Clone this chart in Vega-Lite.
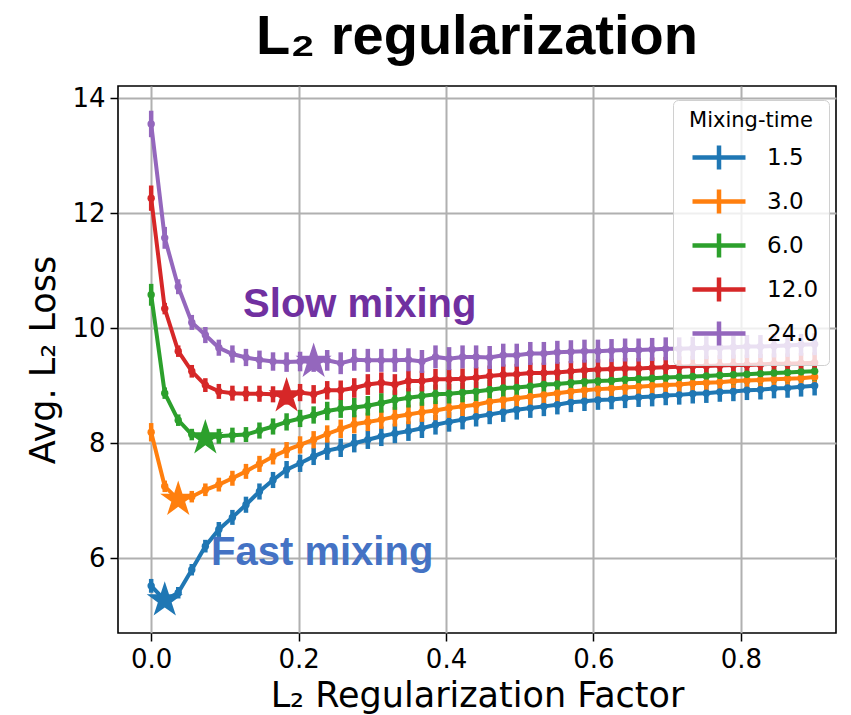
{
  "$schema": "https://vega.github.io/schema/vega-lite/v6.json",
  "autosize": "none",
  "width": 718,
  "height": 547,
  "padding": {"left": 118, "top": 86, "right": 15, "bottom": 82},
  "background": "white",
  "title": {"text": "L₂ regularization", "fontSize": 56, "fontWeight": "bold", "color": "black", "anchor": "middle", "offset": 19},
  "config": {
    "view": {"stroke": "black", "strokeWidth": 1.6},
    "axis": {"grid": true, "gridColor": "#b0b0b0", "gridWidth": 2, "domain": false, "tickColor": "black", "tickSize": 8, "tickWidth": 1.5,
      "labelFont": "DejaVu Sans", "labelFontSize": 26, "labelColor": "black", "titleFont": "DejaVu Sans", "titleFontSize": 35, "titleFontWeight": "normal", "titleColor": "black", "labelPadding": 5},
    "legend": {"labelFont": "DejaVu Sans", "titleFont": "DejaVu Sans"}
  },
  "datasets": {
    "series": [
      {"m":"1.5","x":0,"y":5.52,"lo":5.40,"hi":5.64},{"m":"1.5","x":0.0184,"y":5.27,"lo":5.17,"hi":5.37},{"m":"1.5","x":0.0367,"y":5.40,"lo":5.30,"hi":5.50},{"m":"1.5","x":0.0551,"y":5.80,"lo":5.70,"hi":5.90},{"m":"1.5","x":0.0735,"y":6.21,"lo":6.10,"hi":6.32},{"m":"1.5","x":0.0918,"y":6.50,"lo":6.37,"hi":6.63},{"m":"1.5","x":0.1102,"y":6.71,"lo":6.58,"hi":6.84},{"m":"1.5","x":0.1286,"y":6.93,"lo":6.79,"hi":7.07},{"m":"1.5","x":0.1469,"y":7.16,"lo":7.02,"hi":7.30},{"m":"1.5","x":0.1653,"y":7.36,"lo":7.22,"hi":7.50},
      {"m":"1.5","x":0.1837,"y":7.54,"lo":7.39,"hi":7.69},{"m":"1.5","x":0.2020,"y":7.65,"lo":7.50,"hi":7.80},{"m":"1.5","x":0.2204,"y":7.77,"lo":7.62,"hi":7.92},{"m":"1.5","x":0.2388,"y":7.87,"lo":7.71,"hi":8.03},{"m":"1.5","x":0.2571,"y":7.92,"lo":7.76,"hi":8.08},{"m":"1.5","x":0.2755,"y":8.00,"lo":7.84,"hi":8.16},{"m":"1.5","x":0.2939,"y":8.06,"lo":7.90,"hi":8.22},{"m":"1.5","x":0.3122,"y":8.12,"lo":7.95,"hi":8.29},{"m":"1.5","x":0.3306,"y":8.17,"lo":8.00,"hi":8.34},{"m":"1.5","x":0.3490,"y":8.21,"lo":8.04,"hi":8.38},
      {"m":"1.5","x":0.3673,"y":8.26,"lo":8.09,"hi":8.43},{"m":"1.5","x":0.3857,"y":8.32,"lo":8.15,"hi":8.49},{"m":"1.5","x":0.4041,"y":8.37,"lo":8.20,"hi":8.54},{"m":"1.5","x":0.4224,"y":8.41,"lo":8.24,"hi":8.58},{"m":"1.5","x":0.4408,"y":8.46,"lo":8.29,"hi":8.63},{"m":"1.5","x":0.4592,"y":8.50,"lo":8.33,"hi":8.67},{"m":"1.5","x":0.4776,"y":8.54,"lo":8.37,"hi":8.71},{"m":"1.5","x":0.4959,"y":8.58,"lo":8.41,"hi":8.75},{"m":"1.5","x":0.5143,"y":8.61,"lo":8.44,"hi":8.78},{"m":"1.5","x":0.5327,"y":8.64,"lo":8.47,"hi":8.81},
      {"m":"1.5","x":0.5510,"y":8.67,"lo":8.50,"hi":8.84},{"m":"1.5","x":0.5694,"y":8.71,"lo":8.54,"hi":8.88},{"m":"1.5","x":0.5878,"y":8.73,"lo":8.56,"hi":8.90},{"m":"1.5","x":0.6061,"y":8.75,"lo":8.58,"hi":8.92},{"m":"1.5","x":0.6245,"y":8.76,"lo":8.59,"hi":8.93},{"m":"1.5","x":0.6429,"y":8.78,"lo":8.61,"hi":8.95},{"m":"1.5","x":0.6612,"y":8.80,"lo":8.63,"hi":8.97},{"m":"1.5","x":0.6796,"y":8.81,"lo":8.64,"hi":8.98},{"m":"1.5","x":0.6980,"y":8.83,"lo":8.66,"hi":9.00},{"m":"1.5","x":0.7163,"y":8.84,"lo":8.67,"hi":9.01},
      {"m":"1.5","x":0.7347,"y":8.86,"lo":8.69,"hi":9.03},{"m":"1.5","x":0.7531,"y":8.87,"lo":8.70,"hi":9.04},{"m":"1.5","x":0.7714,"y":8.89,"lo":8.72,"hi":9.06},{"m":"1.5","x":0.7898,"y":8.90,"lo":8.73,"hi":9.07},{"m":"1.5","x":0.8082,"y":8.92,"lo":8.75,"hi":9.09},{"m":"1.5","x":0.8265,"y":8.93,"lo":8.76,"hi":9.10},{"m":"1.5","x":0.8449,"y":8.95,"lo":8.78,"hi":9.12},{"m":"1.5","x":0.8633,"y":8.96,"lo":8.79,"hi":9.13},{"m":"1.5","x":0.8816,"y":8.98,"lo":8.81,"hi":9.15},{"m":"1.5","x":0.9,"y":9.00,"lo":8.83,"hi":9.17},

      {"m":"3.0","x":0,"y":8.19,"lo":8.03,"hi":8.35},{"m":"3.0","x":0.0184,"y":7.25,"lo":7.15,"hi":7.35},{"m":"3.0","x":0.0367,"y":7.02,"lo":6.92,"hi":7.12},{"m":"3.0","x":0.0551,"y":7.07,"lo":6.97,"hi":7.17},{"m":"3.0","x":0.0735,"y":7.19,"lo":7.08,"hi":7.30},{"m":"3.0","x":0.0918,"y":7.28,"lo":7.16,"hi":7.40},{"m":"3.0","x":0.1102,"y":7.39,"lo":7.26,"hi":7.52},{"m":"3.0","x":0.1286,"y":7.51,"lo":7.38,"hi":7.64},{"m":"3.0","x":0.1469,"y":7.64,"lo":7.50,"hi":7.78},{"m":"3.0","x":0.1653,"y":7.77,"lo":7.63,"hi":7.91},
      {"m":"3.0","x":0.1837,"y":7.88,"lo":7.74,"hi":8.02},{"m":"3.0","x":0.2020,"y":7.97,"lo":7.82,"hi":8.12},{"m":"3.0","x":0.2204,"y":8.06,"lo":7.91,"hi":8.21},{"m":"3.0","x":0.2388,"y":8.16,"lo":8.01,"hi":8.31},{"m":"3.0","x":0.2571,"y":8.25,"lo":8.09,"hi":8.41},{"m":"3.0","x":0.2755,"y":8.33,"lo":8.17,"hi":8.49},{"m":"3.0","x":0.2939,"y":8.37,"lo":8.21,"hi":8.53},{"m":"3.0","x":0.3122,"y":8.41,"lo":8.25,"hi":8.57},{"m":"3.0","x":0.3306,"y":8.46,"lo":8.29,"hi":8.63},{"m":"3.0","x":0.3490,"y":8.50,"lo":8.33,"hi":8.67},
      {"m":"3.0","x":0.3673,"y":8.54,"lo":8.37,"hi":8.71},{"m":"3.0","x":0.3857,"y":8.57,"lo":8.40,"hi":8.74},{"m":"3.0","x":0.4041,"y":8.61,"lo":8.44,"hi":8.78},{"m":"3.0","x":0.4224,"y":8.64,"lo":8.47,"hi":8.81},{"m":"3.0","x":0.4408,"y":8.67,"lo":8.50,"hi":8.84},{"m":"3.0","x":0.4592,"y":8.72,"lo":8.55,"hi":8.89},{"m":"3.0","x":0.4776,"y":8.75,"lo":8.58,"hi":8.92},{"m":"3.0","x":0.4959,"y":8.78,"lo":8.61,"hi":8.95},{"m":"3.0","x":0.5143,"y":8.81,"lo":8.64,"hi":8.98},{"m":"3.0","x":0.5327,"y":8.84,"lo":8.67,"hi":9.01},
      {"m":"3.0","x":0.5510,"y":8.87,"lo":8.70,"hi":9.04},{"m":"3.0","x":0.5694,"y":8.90,"lo":8.73,"hi":9.07},{"m":"3.0","x":0.5878,"y":8.92,"lo":8.75,"hi":9.09},{"m":"3.0","x":0.6061,"y":8.94,"lo":8.77,"hi":9.11},{"m":"3.0","x":0.6245,"y":8.95,"lo":8.78,"hi":9.12},{"m":"3.0","x":0.6429,"y":8.97,"lo":8.80,"hi":9.14},{"m":"3.0","x":0.6612,"y":8.98,"lo":8.81,"hi":9.15},{"m":"3.0","x":0.6796,"y":9.00,"lo":8.83,"hi":9.17},{"m":"3.0","x":0.6980,"y":9.01,"lo":8.84,"hi":9.18},{"m":"3.0","x":0.7163,"y":9.02,"lo":8.85,"hi":9.19},
      {"m":"3.0","x":0.7347,"y":9.04,"lo":8.87,"hi":9.21},{"m":"3.0","x":0.7531,"y":9.05,"lo":8.88,"hi":9.22},{"m":"3.0","x":0.7714,"y":9.06,"lo":8.89,"hi":9.23},{"m":"3.0","x":0.7898,"y":9.08,"lo":8.91,"hi":9.25},{"m":"3.0","x":0.8082,"y":9.09,"lo":8.92,"hi":9.26},{"m":"3.0","x":0.8265,"y":9.10,"lo":8.93,"hi":9.27},{"m":"3.0","x":0.8449,"y":9.11,"lo":8.94,"hi":9.28},{"m":"3.0","x":0.8633,"y":9.12,"lo":8.95,"hi":9.29},{"m":"3.0","x":0.8816,"y":9.13,"lo":8.96,"hi":9.30},{"m":"3.0","x":0.9,"y":9.15,"lo":8.98,"hi":9.32},

      {"m":"6.0","x":0,"y":10.58,"lo":10.39,"hi":10.77},{"m":"6.0","x":0.0184,"y":8.87,"lo":8.77,"hi":8.97},{"m":"6.0","x":0.0367,"y":8.40,"lo":8.30,"hi":8.50},{"m":"6.0","x":0.0551,"y":8.15,"lo":8.05,"hi":8.25},{"m":"6.0","x":0.0735,"y":8.09,"lo":7.97,"hi":8.21},{"m":"6.0","x":0.0918,"y":8.12,"lo":7.99,"hi":8.25},{"m":"6.0","x":0.1102,"y":8.14,"lo":8.01,"hi":8.27},{"m":"6.0","x":0.1286,"y":8.15,"lo":8.02,"hi":8.28},{"m":"6.0","x":0.1469,"y":8.22,"lo":8.08,"hi":8.36},{"m":"6.0","x":0.1653,"y":8.29,"lo":8.15,"hi":8.43},
      {"m":"6.0","x":0.1837,"y":8.37,"lo":8.22,"hi":8.52},{"m":"6.0","x":0.2020,"y":8.43,"lo":8.28,"hi":8.58},{"m":"6.0","x":0.2204,"y":8.49,"lo":8.34,"hi":8.64},{"m":"6.0","x":0.2388,"y":8.56,"lo":8.40,"hi":8.72},{"m":"6.0","x":0.2571,"y":8.60,"lo":8.44,"hi":8.76},{"m":"6.0","x":0.2755,"y":8.62,"lo":8.45,"hi":8.79},{"m":"6.0","x":0.2939,"y":8.65,"lo":8.48,"hi":8.82},{"m":"6.0","x":0.3122,"y":8.70,"lo":8.53,"hi":8.87},{"m":"6.0","x":0.3306,"y":8.75,"lo":8.58,"hi":8.92},{"m":"6.0","x":0.3490,"y":8.79,"lo":8.62,"hi":8.96},
      {"m":"6.0","x":0.3673,"y":8.82,"lo":8.65,"hi":8.99},{"m":"6.0","x":0.3857,"y":8.85,"lo":8.68,"hi":9.02},{"m":"6.0","x":0.4041,"y":8.86,"lo":8.69,"hi":9.03},{"m":"6.0","x":0.4224,"y":8.88,"lo":8.71,"hi":9.05},{"m":"6.0","x":0.4408,"y":8.90,"lo":8.73,"hi":9.07},{"m":"6.0","x":0.4592,"y":8.93,"lo":8.76,"hi":9.10},{"m":"6.0","x":0.4776,"y":8.96,"lo":8.79,"hi":9.13},{"m":"6.0","x":0.4959,"y":8.97,"lo":8.80,"hi":9.14},{"m":"6.0","x":0.5143,"y":8.99,"lo":8.82,"hi":9.16},{"m":"6.0","x":0.5327,"y":9.02,"lo":8.85,"hi":9.19},
      {"m":"6.0","x":0.5510,"y":9.03,"lo":8.86,"hi":9.20},{"m":"6.0","x":0.5694,"y":9.05,"lo":8.88,"hi":9.22},{"m":"6.0","x":0.5878,"y":9.07,"lo":8.90,"hi":9.24},{"m":"6.0","x":0.6061,"y":9.08,"lo":8.91,"hi":9.25},{"m":"6.0","x":0.6245,"y":9.09,"lo":8.92,"hi":9.26},{"m":"6.0","x":0.6429,"y":9.11,"lo":8.94,"hi":9.28},{"m":"6.0","x":0.6612,"y":9.12,"lo":8.95,"hi":9.29},{"m":"6.0","x":0.6796,"y":9.13,"lo":8.96,"hi":9.30},{"m":"6.0","x":0.6980,"y":9.14,"lo":8.97,"hi":9.31},{"m":"6.0","x":0.7163,"y":9.15,"lo":8.98,"hi":9.32},
      {"m":"6.0","x":0.7347,"y":9.16,"lo":8.99,"hi":9.33},{"m":"6.0","x":0.7531,"y":9.17,"lo":9.00,"hi":9.34},{"m":"6.0","x":0.7714,"y":9.18,"lo":9.01,"hi":9.35},{"m":"6.0","x":0.7898,"y":9.19,"lo":9.02,"hi":9.36},{"m":"6.0","x":0.8082,"y":9.20,"lo":9.03,"hi":9.37},{"m":"6.0","x":0.8265,"y":9.21,"lo":9.04,"hi":9.38},{"m":"6.0","x":0.8449,"y":9.22,"lo":9.05,"hi":9.39},{"m":"6.0","x":0.8633,"y":9.23,"lo":9.06,"hi":9.40},{"m":"6.0","x":0.8816,"y":9.24,"lo":9.07,"hi":9.41},{"m":"6.0","x":0.9,"y":9.25,"lo":9.08,"hi":9.42},

      {"m":"12.0","x":0,"y":12.26,"lo":12.04,"hi":12.48},{"m":"12.0","x":0.0184,"y":10.34,"lo":10.24,"hi":10.44},{"m":"12.0","x":0.0367,"y":9.60,"lo":9.50,"hi":9.70},{"m":"12.0","x":0.0551,"y":9.25,"lo":9.14,"hi":9.36},{"m":"12.0","x":0.0735,"y":9.01,"lo":8.89,"hi":9.13},{"m":"12.0","x":0.0918,"y":8.90,"lo":8.77,"hi":9.03},{"m":"12.0","x":0.1102,"y":8.87,"lo":8.74,"hi":9.00},{"m":"12.0","x":0.1286,"y":8.86,"lo":8.73,"hi":8.99},{"m":"12.0","x":0.1469,"y":8.86,"lo":8.72,"hi":9.00},{"m":"12.0","x":0.1653,"y":8.85,"lo":8.71,"hi":8.99},
      {"m":"12.0","x":0.1837,"y":8.82,"lo":8.67,"hi":8.97},{"m":"12.0","x":0.2020,"y":8.88,"lo":8.73,"hi":9.03},{"m":"12.0","x":0.2204,"y":8.85,"lo":8.69,"hi":9.01},{"m":"12.0","x":0.2388,"y":8.92,"lo":8.76,"hi":9.08},{"m":"12.0","x":0.2571,"y":8.92,"lo":8.75,"hi":9.09},{"m":"12.0","x":0.2755,"y":8.96,"lo":8.79,"hi":9.13},{"m":"12.0","x":0.2939,"y":9.02,"lo":8.84,"hi":9.20},{"m":"12.0","x":0.3122,"y":9.05,"lo":8.87,"hi":9.23},{"m":"12.0","x":0.3306,"y":9.02,"lo":8.84,"hi":9.20},{"m":"12.0","x":0.3490,"y":9.08,"lo":8.90,"hi":9.26},
      {"m":"12.0","x":0.3673,"y":9.08,"lo":8.90,"hi":9.26},{"m":"12.0","x":0.3857,"y":9.11,"lo":8.93,"hi":9.29},{"m":"12.0","x":0.4041,"y":9.11,"lo":8.93,"hi":9.29},{"m":"12.0","x":0.4224,"y":9.12,"lo":8.94,"hi":9.30},{"m":"12.0","x":0.4408,"y":9.14,"lo":8.96,"hi":9.32},{"m":"12.0","x":0.4592,"y":9.17,"lo":8.99,"hi":9.35},{"m":"12.0","x":0.4776,"y":9.19,"lo":9.01,"hi":9.37},{"m":"12.0","x":0.4959,"y":9.20,"lo":9.02,"hi":9.38},{"m":"12.0","x":0.5143,"y":9.22,"lo":9.04,"hi":9.40},{"m":"12.0","x":0.5327,"y":9.22,"lo":9.04,"hi":9.40},
      {"m":"12.0","x":0.5510,"y":9.23,"lo":9.05,"hi":9.41},{"m":"12.0","x":0.5694,"y":9.25,"lo":9.07,"hi":9.43},{"m":"12.0","x":0.5878,"y":9.27,"lo":9.09,"hi":9.45},{"m":"12.0","x":0.6061,"y":9.28,"lo":9.10,"hi":9.46},{"m":"12.0","x":0.6245,"y":9.29,"lo":9.11,"hi":9.47},{"m":"12.0","x":0.6429,"y":9.30,"lo":9.12,"hi":9.48},{"m":"12.0","x":0.6612,"y":9.30,"lo":9.12,"hi":9.48},{"m":"12.0","x":0.6796,"y":9.31,"lo":9.13,"hi":9.49},{"m":"12.0","x":0.6980,"y":9.32,"lo":9.14,"hi":9.50},{"m":"12.0","x":0.7163,"y":9.33,"lo":9.15,"hi":9.51},
      {"m":"12.0","x":0.7347,"y":9.34,"lo":9.16,"hi":9.52},{"m":"12.0","x":0.7531,"y":9.34,"lo":9.16,"hi":9.52},{"m":"12.0","x":0.7714,"y":9.35,"lo":9.17,"hi":9.53},{"m":"12.0","x":0.7898,"y":9.36,"lo":9.18,"hi":9.54},{"m":"12.0","x":0.8082,"y":9.36,"lo":9.18,"hi":9.54},{"m":"12.0","x":0.8265,"y":9.37,"lo":9.19,"hi":9.55},{"m":"12.0","x":0.8449,"y":9.38,"lo":9.20,"hi":9.56},{"m":"12.0","x":0.8633,"y":9.38,"lo":9.20,"hi":9.56},{"m":"12.0","x":0.8816,"y":9.39,"lo":9.21,"hi":9.57},{"m":"12.0","x":0.9,"y":9.40,"lo":9.22,"hi":9.58},

      {"m":"24.0","x":0,"y":13.55,"lo":13.32,"hi":13.78},{"m":"24.0","x":0.0184,"y":11.57,"lo":11.38,"hi":11.76},{"m":"24.0","x":0.0367,"y":10.72,"lo":10.59,"hi":10.85},{"m":"24.0","x":0.0551,"y":10.10,"lo":9.97,"hi":10.23},{"m":"24.0","x":0.0735,"y":9.88,"lo":9.74,"hi":10.02},{"m":"24.0","x":0.0918,"y":9.66,"lo":9.52,"hi":9.80},{"m":"24.0","x":0.1102,"y":9.55,"lo":9.40,"hi":9.70},{"m":"24.0","x":0.1286,"y":9.49,"lo":9.34,"hi":9.64},{"m":"24.0","x":0.1469,"y":9.45,"lo":9.29,"hi":9.61},{"m":"24.0","x":0.1653,"y":9.42,"lo":9.26,"hi":9.58},
      {"m":"24.0","x":0.1837,"y":9.41,"lo":9.24,"hi":9.58},{"m":"24.0","x":0.2020,"y":9.42,"lo":9.25,"hi":9.59},{"m":"24.0","x":0.2204,"y":9.42,"lo":9.24,"hi":9.60},{"m":"24.0","x":0.2388,"y":9.44,"lo":9.26,"hi":9.62},{"m":"24.0","x":0.2571,"y":9.39,"lo":9.20,"hi":9.58},{"m":"24.0","x":0.2755,"y":9.45,"lo":9.26,"hi":9.64},{"m":"24.0","x":0.2939,"y":9.44,"lo":9.24,"hi":9.64},{"m":"24.0","x":0.3122,"y":9.44,"lo":9.24,"hi":9.64},{"m":"24.0","x":0.3306,"y":9.44,"lo":9.24,"hi":9.64},{"m":"24.0","x":0.3490,"y":9.45,"lo":9.25,"hi":9.65},
      {"m":"24.0","x":0.3673,"y":9.42,"lo":9.22,"hi":9.62},{"m":"24.0","x":0.3857,"y":9.50,"lo":9.30,"hi":9.70},{"m":"24.0","x":0.4041,"y":9.47,"lo":9.27,"hi":9.67},{"m":"24.0","x":0.4224,"y":9.50,"lo":9.30,"hi":9.70},{"m":"24.0","x":0.4408,"y":9.50,"lo":9.30,"hi":9.70},{"m":"24.0","x":0.4592,"y":9.49,"lo":9.29,"hi":9.69},{"m":"24.0","x":0.4776,"y":9.53,"lo":9.33,"hi":9.73},{"m":"24.0","x":0.4959,"y":9.53,"lo":9.33,"hi":9.73},{"m":"24.0","x":0.5143,"y":9.56,"lo":9.36,"hi":9.76},{"m":"24.0","x":0.5327,"y":9.56,"lo":9.36,"hi":9.76},
      {"m":"24.0","x":0.5510,"y":9.58,"lo":9.38,"hi":9.78},{"m":"24.0","x":0.5694,"y":9.59,"lo":9.39,"hi":9.79},{"m":"24.0","x":0.5878,"y":9.60,"lo":9.40,"hi":9.80},{"m":"24.0","x":0.6061,"y":9.60,"lo":9.40,"hi":9.80},{"m":"24.0","x":0.6245,"y":9.61,"lo":9.41,"hi":9.81},{"m":"24.0","x":0.6429,"y":9.62,"lo":9.42,"hi":9.82},{"m":"24.0","x":0.6612,"y":9.62,"lo":9.42,"hi":9.82},{"m":"24.0","x":0.6796,"y":9.63,"lo":9.43,"hi":9.83},{"m":"24.0","x":0.6980,"y":9.64,"lo":9.44,"hi":9.84},{"m":"24.0","x":0.7163,"y":9.64,"lo":9.44,"hi":9.84},
      {"m":"24.0","x":0.7347,"y":9.65,"lo":9.45,"hi":9.85},{"m":"24.0","x":0.7531,"y":9.66,"lo":9.46,"hi":9.86},{"m":"24.0","x":0.7714,"y":9.66,"lo":9.46,"hi":9.86},{"m":"24.0","x":0.7898,"y":9.67,"lo":9.47,"hi":9.87},{"m":"24.0","x":0.8082,"y":9.68,"lo":9.48,"hi":9.88},{"m":"24.0","x":0.8265,"y":9.68,"lo":9.48,"hi":9.88},{"m":"24.0","x":0.8449,"y":9.69,"lo":9.49,"hi":9.89},{"m":"24.0","x":0.8633,"y":9.70,"lo":9.50,"hi":9.90},{"m":"24.0","x":0.8816,"y":9.71,"lo":9.52,"hi":9.90},{"m":"24.0","x":0.9,"y":9.72,"lo":9.53,"hi":9.91}
    ],
    "stars": [
      {"m":"1.5","x":0.0184,"y":5.27},
      {"m":"3.0","x":0.0367,"y":7.02},
      {"m":"6.0","x":0.0735,"y":8.09},
      {"m":"12.0","x":0.1837,"y":8.82},
      {"m":"24.0","x":0.2204,"y":9.42}
    ]
  },
  "layer": [
    {
      "data": {"name": "series"},
      "mark": {"type": "rule", "strokeWidth": 4.5},
      "encoding": {
        "x": {"field": "x", "type": "quantitative", "title": "L₂ Regularization Factor",
          "scale": {"domain": [-0.045, 0.929], "nice": false, "zero": false},
          "axis": {"values": [0, 0.2, 0.4, 0.6, 0.8], "format": ".1f", "titlePadding": 6}},
        "y": {"field": "lo", "type": "quantitative", "title": "Avg. L₂ Loss",
          "scale": {"domain": [4.7, 14.21], "nice": false, "zero": false},
          "axis": {"values": [6, 8, 10, 12, 14], "format": "d", "titlePadding": 10}},
        "y2": {"field": "hi"},
        "color": {"field": "m", "type": "nominal", "sort": ["1.5", "3.0", "6.0", "12.0", "24.0"],
          "scale": {"domain": ["1.5", "3.0", "6.0", "12.0", "24.0"], "range": ["#1f77b4", "#ff7f0e", "#2ca02c", "#d62728", "#9467bd"]},
          "legend": {"title": "Mixing-time", "orient": "none", "legendX": 555, "legendY": 14,
            "titleFontSize": 21, "titleFontWeight": "normal", "titleAnchor": "middle", "titlePadding": 4, "titleColor": "black",
            "labelFontSize": 23, "labelColor": "black", "labelOffset": 39,
            "symbolType": "M-0.65,0H2M0.675,-0.6V0.6", "symbolSize": 1600, "symbolStrokeWidth": 4.5, "rowPadding": -12,
            "padding": 10, "strokeColor": "#d0d0d0", "fillColor": "rgba(255,255,255,0.8)", "cornerRadius": 5}}
      }
    },
    {
      "data": {"name": "series"},
      "mark": {"type": "line", "strokeWidth": 4},
      "encoding": {
        "x": {"field": "x", "type": "quantitative", "title": "L₂ Regularization Factor"},
        "y": {"field": "y", "type": "quantitative", "title": "Avg. L₂ Loss"},
        "color": {"field": "m", "type": "nominal", "sort": ["1.5", "3.0", "6.0", "12.0", "24.0"]}
      }
    },
    {
      "data": {"name": "series"},
      "mark": {"type": "point", "filled": true, "size": 55, "opacity": 1},
      "encoding": {
        "x": {"field": "x", "type": "quantitative", "title": "L₂ Regularization Factor"},
        "y": {"field": "y", "type": "quantitative", "title": "Avg. L₂ Loss"},
        "color": {"field": "m", "type": "nominal", "sort": ["1.5", "3.0", "6.0", "12.0", "24.0"]}
      }
    },
    {
      "data": {"name": "stars"},
      "mark": {"type": "point", "shape": "M0,-1L0.225,-0.309L0.951,-0.309L0.363,0.118L0.588,0.809L0,0.382L-0.588,0.809L-0.363,0.118L-0.951,-0.309L-0.225,-0.309Z", "filled": true, "size": 1444, "opacity": 1},
      "encoding": {
        "x": {"field": "x", "type": "quantitative", "title": "L₂ Regularization Factor"},
        "y": {"field": "y", "type": "quantitative", "title": "Avg. L₂ Loss"},
        "color": {"field": "m", "type": "nominal", "sort": ["1.5", "3.0", "6.0", "12.0", "24.0"]}
      }
    },
    {
      "data": {"values": [{"label": "Slow mixing", "x": 0.283, "y": 10.4}]},
      "mark": {"type": "text", "fontWeight": "bold", "fontSize": 40, "color": "#7030A0", "align": "center", "baseline": "middle"},
      "encoding": {
        "x": {"field": "x", "type": "quantitative", "title": "L₂ Regularization Factor"},
        "y": {"field": "y", "type": "quantitative", "title": "Avg. L₂ Loss"},
        "text": {"field": "label"}
      }
    },
    {
      "data": {"values": [{"label": "Fast mixing", "x": 0.232, "y": 6.09}]},
      "mark": {"type": "text", "fontWeight": "bold", "fontSize": 40, "color": "#4472C4", "align": "center", "baseline": "middle"},
      "encoding": {
        "x": {"field": "x", "type": "quantitative", "title": "L₂ Regularization Factor"},
        "y": {"field": "y", "type": "quantitative", "title": "Avg. L₂ Loss"},
        "text": {"field": "label"}
      }
    }
  ]
}
